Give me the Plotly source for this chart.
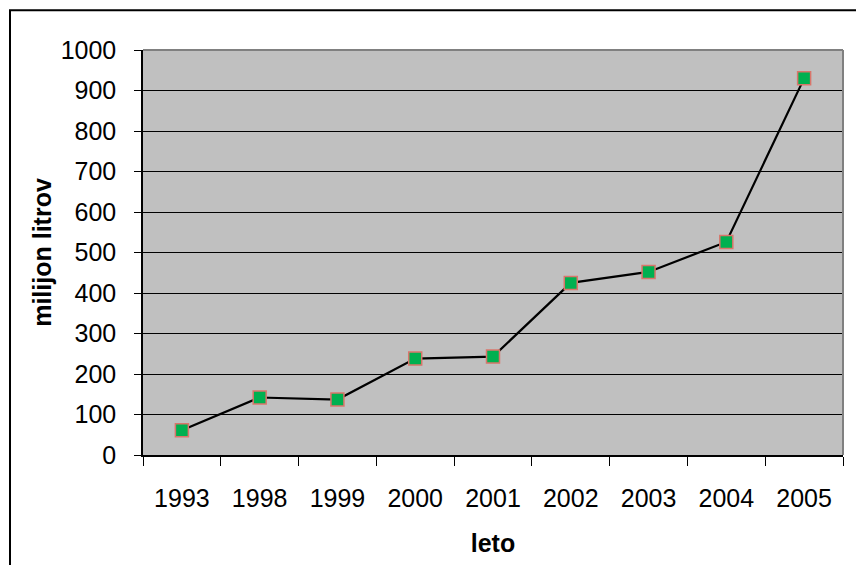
import plotly.graph_objects as go

years = ["1993", "1998", "1999", "2000", "2001", "2002", "2003", "2004", "2005"]
values = [61, 142, 137, 238, 243, 425, 452, 526, 930]
y_ticks = [0, 100, 200, 300, 400, 500, 600, 700, 800, 900, 1000]

# page body has an 8px margin, so the figure is offset by 8px
OFF = 8
W, H = 864 - OFF, 565 - OFF
L, R, T, B = 143 - OFF, 21, 50 - OFF, 108
pw, ph = W - L - R, H - T - B

fig = go.Figure()
fig.add_trace(go.Scatter(
    x=years, y=values, mode="lines+markers",
    line=dict(color="black", width=2.2),
    marker=dict(symbol="square", size=13, color="#00B050",
                line=dict(color="#D9756B", width=1.5)),
    showlegend=False, cliponaxis=False,
))

tfont = dict(family="Liberation Sans, Arial, sans-serif", size=25, color="black")
titfont = dict(family="Liberation Sans, Arial, sans-serif", size=25, color="black")

fig.update_layout(
    width=W, height=H,
    margin=dict(l=L, r=R, t=T, b=B, pad=0),
    paper_bgcolor="white", plot_bgcolor="#C0C0C0",
    font=tfont,
    xaxis=dict(
        type="category", range=[-0.5, 8.5], showgrid=False,
        showline=True, linecolor="black", linewidth=1.5,
        ticks="outside", tickson="boundaries", ticklen=9, tickcolor="black", tickwidth=1,
        ticklabelstandoff=20, tickfont=tfont,
        title=dict(text="<b>leto</b>", font=titfont, standoff=24),
        zeroline=False,
    ),
    yaxis=dict(
        range=[0, 1000], tickvals=y_ticks, showgrid=True, gridcolor="black", gridwidth=1,
        showline=True, linecolor="black", linewidth=1.5,
        ticks="outside", ticklen=7, tickcolor="black", tickwidth=1,
        ticklabelstandoff=13, tickfont=tfont,
        title=dict(text="<b>milijon litrov</b>", font=titfont, standoff=2),
        zeroline=False,
    ),
    shapes=[
        dict(type="line", xref="x domain", yref="y domain", x0=0, x1=1, y0=1, y1=1,
             line=dict(color="#808080", width=2), layer="above"),
        dict(type="line", xref="x domain", yref="y domain", x0=1, x1=1, y0=0, y1=1,
             line=dict(color="#808080", width=2), layer="above"),
        dict(type="rect", xref="paper", yref="paper",
             x0=(10 - OFF - L) / pw, x1=(W + 20 - L) / pw,
             y0=-(B + 20) / ph, y1=(H - B - (10 - OFF)) / ph,
             line=dict(color="black", width=2), fillcolor="rgba(0,0,0,0)", layer="below"),
    ],
)

fig.write_html("out.html")
